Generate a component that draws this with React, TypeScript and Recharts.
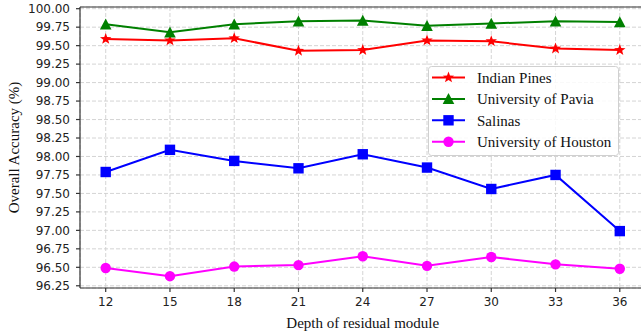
import React from 'react';
import { LineChart, Line, XAxis, YAxis, CartesianGrid, Legend, ReferenceLine } from 'recharts';

// depth of the residual module vs. overall accuracy (%) per dataset
const depths = [12, 15, 18, 21, 24, 27, 30, 33, 36];
const indianPines = [99.59, 99.57, 99.6, 99.43, 99.44, 99.57, 99.56, 99.46, 99.44];
const pavia = [99.79, 99.68, 99.79, 99.83, 99.84, 99.77, 99.8, 99.83, 99.82];
const salinas = [97.79, 98.09, 97.94, 97.84, 98.03, 97.85, 97.56, 97.75, 96.99];
const houston = [96.49, 96.38, 96.51, 96.53, 96.65, 96.52, 96.64, 96.54, 96.48];
const yTicks = [96.25, 96.5, 96.75, 97, 97.25, 97.5, 97.75, 98, 98.25, 98.5, 98.75, 99, 99.25, 99.5, 99.75, 100];

const series = [
  { key: 'ip', name: 'Indian Pines', color: '#ff0000', shape: 'star', values: indianPines },
  { key: 'pu', name: 'University of Pavia', color: '#008000', shape: 'triangle', values: pavia },
  { key: 'sa', name: 'Salinas', color: '#0000ff', shape: 'square', values: salinas },
  { key: 'hu', name: 'University of Houston', color: '#ff00ff', shape: 'circle', values: houston },
];

const data = depths.map((d, i) => {
  const row: Record<string, number> = { depth: d };
  series.forEach((s) => { row[s.key] = s.values[i]; });
  return row;
});

const serifFont = 'Liberation Serif, Times New Roman, serif';
const tickFont = { fontFamily: 'DejaVu Sans, sans-serif', fontSize: 12, fill: '#222' };
const axisColor = '#333';

function Marker({ shape, cx, cy, color }: { shape: string; cx: number; cy: number; color: string }) {
  if (shape === 'star') {
    const pts: string[] = [];
    for (let k = 0; k < 10; k++) {
      const r = k % 2 === 0 ? 6 : 2.5;
      const a = -Math.PI / 2 + (k * Math.PI) / 5;
      pts.push(`${cx + r * Math.cos(a)},${cy + r * Math.sin(a)}`);
    }
    return <polygon points={pts.join(' ')} fill={color} />;
  }
  if (shape === 'triangle') {
    return <polygon points={`${cx},${cy - 5.8} ${cx - 5.8},${cy + 5.2} ${cx + 5.8},${cy + 5.2}`} fill={color} />;
  }
  if (shape === 'square') {
    return <rect x={cx - 5.2} y={cy - 5.2} width={10.4} height={10.4} fill={color} />;
  }
  return <circle cx={cx} cy={cy} r={5.2} fill={color} />;
}

// legend box drawn as svg so the serif text renders like the axis titles
const renderLegend = () => (
  <svg width={191} height={90} style={{ display: 'block' }}>
    <rect x={0.5} y={0.5} width={190} height={89} rx={3} fill="#fff" fillOpacity={0.85} stroke="#d0d0d0" />
    {series.map((s, i) => {
      const cy = 11.5 + i * 21.4;
      return (
        <g key={s.key}>
          <line x1={4} y1={cy} x2={37} y2={cy} stroke={s.color} strokeWidth={2} />
          <Marker shape={s.shape} cx={20.5} cy={cy} color={s.color} />
          <text x={49} y={cy} dy="0.35em" fontFamily={serifFont} fontSize={15} fill="#111">{s.name}</text>
        </g>
      );
    })}
  </svg>
);

export default function App() {
  return (
    <div style={{ position: 'absolute', left: 0, top: 0, width: 641, height: 335, overflow: 'hidden', background: '#fff' }}>
      <LineChart width={660} height={335} data={data} margin={{ top: 7, right: 14.5, left: 0, bottom: 17 }}>
        <CartesianGrid stroke="#cfcfcf" strokeDasharray="4 2" strokeWidth={0.9} />
        <XAxis
          dataKey="depth"
          type="number"
          domain={[10.8, 37.2]}
          ticks={depths}
          allowDataOverflow
          height={30}
          tick={tickFont}
          tickSize={4}
          tickMargin={5}
          stroke={axisColor}
          strokeWidth={1.2}
          label={{ value: 'Depth of residual module', position: 'insideBottom', offset: -10, style: { fontFamily: serifFont, fontSize: 15, fill: '#111' } }}
        />
        <YAxis
          type="number"
          domain={[96.22, 100.023]}
          ticks={yTicks}
          allowDataOverflow
          width={80}
          interval={0}
          tick={tickFont}
          tickSize={4}
          tickMargin={6}
          tickFormatter={(v: number) => v.toFixed(2)}
          stroke={axisColor}
          strokeWidth={1.2}
          label={{ value: 'Overall Accuracy (%)', angle: -90, position: 'center', dx: -26, style: { fontFamily: serifFont, fontSize: 15, fill: '#111', textAnchor: 'middle' } }}
        />
        <ReferenceLine y={100.023} stroke={axisColor} strokeWidth={1.2} ifOverflow="visible" />
        {series.map((s) => (
          <Line
            key={s.key}
            dataKey={s.key}
            name={s.name}
            stroke={s.color}
            strokeWidth={2}
            isAnimationActive={false}
            activeDot={false}
            dot={(p: any) => <Marker key={`${s.key}-${p.index}`} shape={s.shape} cx={p.cx} cy={p.cy} color={s.color} />}
          />
        ))}
        <Legend
          layout="horizontal"
          verticalAlign="middle"
          content={renderLegend}
          wrapperStyle={{ left: 428, top: 65.5, width: 191 }}
        />
      </LineChart>
    </div>
  );
}
